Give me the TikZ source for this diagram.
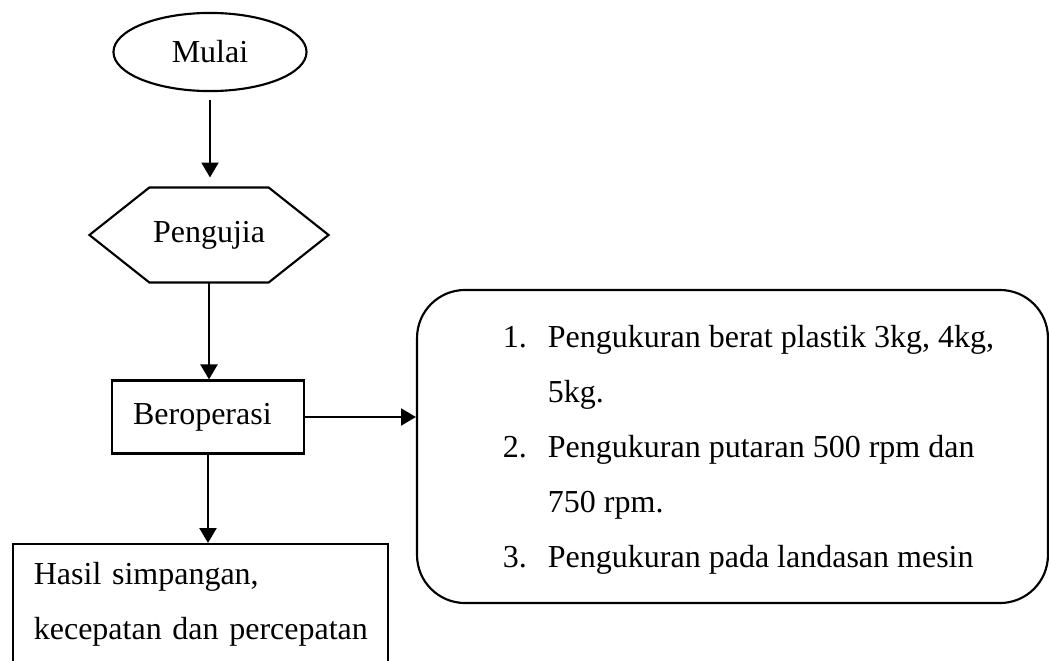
\documentclass[tikz,border=0pt]{standalone}
\usepackage{fontspec}
\setmainfont{Liberation Serif}
\usepackage{tikz}
\usetikzlibrary{arrows.meta,shapes.geometric,calc}

\begin{document}
\begin{tikzpicture}[x=0.375pt, y=-0.375pt,
  every node/.style={font=\fontsize{12}{20.6}\selectfont},
  terminal/.style={ellipse, draw, line width=0.8pt, minimum width=72.4pt,
                   minimum height=29.3pt, inner sep=0pt},
  prosesbox/.style={rectangle, draw, line width=0.8pt, align=left},
  daftar/.style={rectangle, draw, line width=0.8pt, rounded corners=18pt,
                 minimum width=236.6pt, minimum height=117.4pt, inner sep=0pt},
  arr/.style={line width=1pt, -{Triangle[length=5.6pt, width=6.3pt]}}
]
\useasboundingbox (0,0) rectangle (1049,661);
\clip (0,0) rectangle (1049,661);

\node[terminal] (mulai) at (210,52) {Mulai};
\node[minimum width=44.3pt, minimum height=35.25pt, inner sep=0pt] (pengujia) at (209,235) {Pengujia};
\draw[line width=0.8pt] (pengujia.north west) -- (pengujia.north east)
  -- ($(pengujia.east)+(60,0)$) -- (pengujia.south east) -- (pengujia.south west)
  -- ($(pengujia.west)+(-60,0)$) -- cycle;
\node[prosesbox, minimum width=72pt, minimum height=27.4pt, text width=56.2pt,
      inner xsep=7.9pt] (operasi) at (208,417) {Beroperasi};
\node[prosesbox, anchor=north west, text width=125pt, inner xsep=7.8pt, inner ysep=0.6pt]
  (hasil) at (12,543) {\begin{tabular}{@{}l@{}}
  Hasil simpangan,\\
  kecepatan dan percepatan\\
  \mbox{}
  \end{tabular}};

% daftar pengukuran
\node[daftar] (ukur) at (732.5,446.5) {\hspace*{12pt}\begin{tabular}{@{}p{16.9pt}@{}l@{}}
  1. & Pengukuran berat plastik 3kg, 4kg,\\
     & 5kg.\\
  2. & Pengukuran putaran 500 rpm dan\\
     & 750 rpm.\\
  3. & Pengukuran pada landasan mesin
  \end{tabular}};

\draw[arr, shorten <=3pt, shorten >=3.75pt] (mulai.south) -- (mulai.south |- pengujia.north);
\draw[arr] (pengujia.south) -- (pengujia.south |- operasi.north);
\draw[arr] (operasi.east) -- (operasi.east -| ukur.west);
\draw[arr] (operasi.south) -- (operasi.south |- hasil.north);
\end{tikzpicture}
\end{document}
